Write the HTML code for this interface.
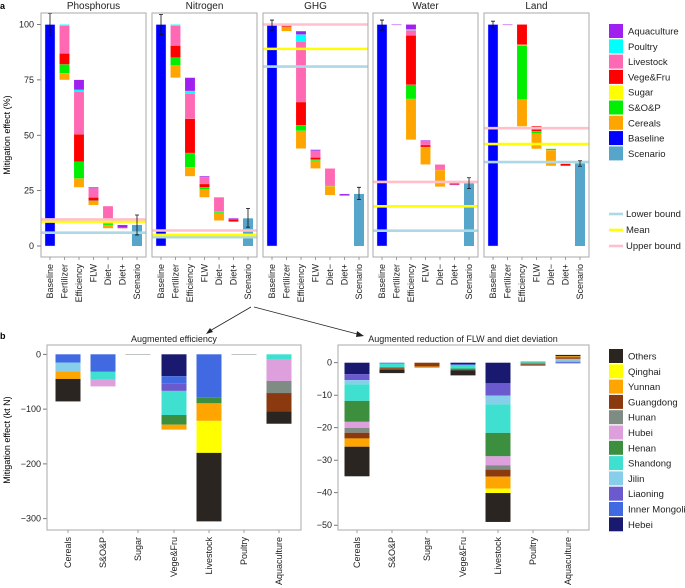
<!DOCTYPE html>
<html><head><meta charset="utf-8"><style>
body{margin:0;background:#fff;}
svg{font-family:"Liberation Sans",Arial,sans-serif;display:block;}
</style></head><body>
<svg id="fig" width="685" height="588" viewBox="0 0 685 588" xmlns="http://www.w3.org/2000/svg">
<text x="0" y="9" font-size="9" font-weight="bold">a</text>
<text x="0" y="339" font-size="9" font-weight="bold">b</text>
<text transform="translate(10,135) rotate(-90)" font-size="9" text-anchor="middle">Mitigation effect (%)</text>
<text transform="translate(10,440) rotate(-90)" font-size="9" text-anchor="middle">Mitigation effect (kt N)</text>
<g id="pa"></g><g id="pb"></g><g id="leg"></g>
<g stroke="#222" stroke-width="0.8" fill="none">
<line x1="251" y1="307" x2="208" y2="332"/><line x1="254" y1="307" x2="361" y2="335"/>
</g>
<path d="M206,334 L210,328 L213,332 Z M364,336 L357,331 L356,337 Z" fill="#222"/>
</svg>
<script>
// ---------- Panel a data ----------
const panels = ['Phosphorus','Nitrogen','GHG','Water','Land'];
const steps = ['Baseline','Fertilizer','Efficiency','FLW','Diet\u2212','Diet+','Scenario'];
const sectors = ['Cereals','S&O&P','Sugar','Vege&Fru','Livestock','Poultry','Aquaculture'];
const sectorColors = ['#FFA500','#00EE00','#FFFF00','#FF0000','#FF69B4','#00FFFF','#A020F0'];
const stepTops = [
 [100,75,26.5,18,9.5],
 [100,76,31.5,22,12.5],
 [100,97,43.5,35,23.5],
 [100,100,47.8,36.8,28.3],
 [100,100,54.1,43.9,37.1]];
const stepSegs = [
 [[3,4,0,5,12.5,0.5,0],[4,7.5,0,12.5,19.3,0.7,4.5],[1.5,0.5,0,1.5,4,0,0.5],[1.5,0.5,0,0,8,0,0],[0,0,0,0.5,0,0,1]],
 [[5.5,3.5,0,5.5,9,0.5,0],[4,6.5,0,15.5,11.5,1,6],[3.5,1,0,1.5,3,0,0.5],[3.5,0.5,0,0,6.5,0,0],[0,0,0,1,0,0,0.5]],
 [[2,0,0,0.5,0.5,0,0],[8,2.5,0,10.5,27.5,3,1.5],[3.5,0.5,0,1,3,0,0.5],[4,0.5,0,0,7.5,0,0],[0,0,0,0.3,0,0,0.5]],
 [[0,0,0,0,0,0,0.2],[18.4,6.4,0,22.3,2.3,0.4,2.2],[7.9,0,0,0.9,1.9,0,0.3],[7.5,0,0,0,2.5,0,0],[0,0,0,0.3,0,0,0.5]],
 [[0,0,0,0,0,0,0.2],[12.1,24.5,0.3,9.1,0,0,0],[6.8,1.2,0,2.2,0,0,0],[7.1,0.6,0,0,0,0,0],[0,0,0,0.9,0,0,0]]];
const scenarioVals = [9.5,12.5,23.5,28.3,37.3];
const scenarioErr = [[5,14],[8.5,17],[21,26.5],[25.9,30.8],[36,38.5]];
const baselineErr = [[95,105],[95.5,104.5],[97.5,102],[97.5,102],[98.5,101.5]];
const boundLower = [6,4,81,6.9,37.9];
const boundMean = [11,5,89,17.9,46];
const boundUpper = [12,7,100,28.9,53.2];
const yTicksA = [0,25,50,75,100];

// ---------- Panel b data ----------
const provinces = ['Hebei','Inner Mongolia','Liaoning','Jilin','Shandong','Henan','Hubei','Hunan','Guangdong','Yunnan','Qinghai','Others'];
const provColors = ['#191970','#4169E1','#6A5ACD','#87CEEB','#40E0D0','#3C8F3E','#DDA0DD','#7F8C84','#8B3A0F','#FFA500','#FFFF00','#2B2522'];
const bCats = ['Cereals','S&O&P','Sugar','Vege&Fru','Livestock','Poultry','Aquaculture'];
const effVals = [
 [0,-15,0,-16.5,0,0,0,0,0,-13.5,0,-41],
 [0,-32,0,0,-14.6,0,-12,0,0,0,0,0],
 [0,0,0,0,0,0,0,-0.4,0,0,0,0],
 [-40,-12.8,-14,0,-44,-17.6,0,0,0,-9,0,0],
 [0,-78.5,0,0,0,-11,0,0,0,-32,-58.4,-125],
 [0,0,0,0,0,0,0,-0.3,0,0,0,0],
 [0,0,0,0,-9.7,0,-39,-22,-33.5,0,0,-22.5]];
const flwVals = [
 [-3.5,0,-1.85,-1.3,-5.1,-6.45,-1.85,-1.5,-1.75,-2.55,0,-9.1],
 [0,-0.3,0,0,-1.1,-0.3,0,0,-0.5,0,0,-1.0],
 [0,0,0,0,0,0,0,0,-1.2,-0.4,0,0],
 [-0.5,-0.3,0,0,-1.0,-0.5,0,0,0,0,0,-1.6],
 [-6.35,0,-3.8,-2.65,-8.8,-7.2,-2.75,-1.35,-2.15,-3.7,-1.35,-8.9],
 [0,0,0,0,0.3,-0.2,0.2,-0.3,-0.4,0,0,0],
 [0,0.3,-0.2,0,0.4,0,0.5,0,0.5,0.3,0,0.4]];
const yTicksB1 = [0,-100,-200,-300];
const yTicksB2 = [0,-10,-20,-30,-40,-50];

const NS='http://www.w3.org/2000/svg';
function mk(tag,attrs,parent,txt){const e=document.createElementNS(NS,tag);for(const k in attrs)e.setAttribute(k,attrs[k]);if(txt!==undefined)e.textContent=txt;parent.appendChild(e);return e;}

// ---------- draw panel a ----------
const pa=document.getElementById('pa');
const yA=v=>246-v*2.215;
const pLeft=[41,152,263,373,484], pW=105, pTop=13, pBot=257;
yTicksA.forEach(t=>{
  const l=mk('line',{x1:37,x2:41,y1:yA(t),y2:yA(t),stroke:'#555','stroke-width':0.8},pa);
  
  
  const tx=mk('text',{x:34,y:yA(t)+3,'font-size':9,'text-anchor':'end',fill:'#222'},pa,String(t));
  
  
});
panels.forEach((pn,p)=>{
  const L=pLeft[p];
  const g=mk('g',{},pa);
  
  
  const t=mk('text',{x:L+pW/2,y:9,'font-size':10,'text-anchor':'middle',fill:'#222'},g,pn);
  
  
  const cx=i=>L+9+i*14.5;
  const bw=10;
  const b=mk('rect',{x:cx(0)-bw/2,y:yA(100),width:bw,height:yA(0)-yA(100),fill:'#0000FF',stroke:'#ddf','stroke-width':0.4},g);
  
  
  for(let s=0;s<5;s++){
    let top=stepTops[p][s];
    const segs=stepSegs[p][s];
    const total=segs.reduce((a,c)=>a+c,0);
    let base=top-total;
    segs.forEach((v,k)=>{
      if(v<=0)return;
      const r=mk('rect',{x:cx(s+1)-bw/2,y:yA(base+v),width:bw,height:Math.max(yA(base)-yA(base+v),0.6),fill:sectorColors[k],stroke:'#fff','stroke-opacity':0.4,'stroke-width':0.3},g);
      
      
      base+=v;
    });
  }
  const sc=mk('rect',{x:cx(6)-bw/2,y:yA(scenarioVals[p]),width:bw,height:yA(0)-yA(scenarioVals[p]),fill:'#55A6CA'},g);
  
  
  [[boundLower,'#ADD8E6','lower-bound-line'],[boundMean,'#FFFF00','mean-line'],[boundUpper,'#FFC0CB','upper-bound-line']].forEach(([arr,c,n])=>{
    const ln=mk('line',{x1:L,x2:L+pW,y1:yA(arr[p]),y2:yA(arr[p]),stroke:c,'stroke-width':2.6},g);
    
    
  });
  [[0,baselineErr[p]],[6,scenarioErr[p]]].forEach(([i,e])=>{
    const x=cx(i);
    const eb=mk('path',{d:`M${x},${yA(e[0])}V${yA(e[1])}M${x-2},${yA(e[0])}H${x+2}M${x-2},${yA(e[1])}H${x+2}`,stroke:'#111','stroke-width':0.8,fill:'none'},g);
    
    
  });
  const box=mk('rect',{x:L,y:pTop,width:pW,height:pBot-pTop,fill:'none',stroke:'#aaa','stroke-width':1},g);
  
  
  steps.forEach((st,i)=>{
    const tk=mk('line',{x1:cx(i),x2:cx(i),y1:pBot,y2:pBot+3,stroke:'#777','stroke-width':0.7},g);
    
    
    const lb=mk('text',{transform:`translate(${cx(i)+3},264) rotate(-90)`,'font-size':9,'text-anchor':'end',fill:'#222'},g,st);
    
    
  });
});

// ---------- draw panel b ----------
const pb=document.getElementById('pb');
function drawB(L,R,top,bot,y0,scale,vals,ticks,title,titleX,centers,nm){
  const yB=v=>y0-v*scale;
  const g=mk('g',{},pb);
  
  
  const t=mk('text',{x:titleX,y:342,'font-size':9,'text-anchor':'middle',fill:'#222'},g,title);
  
  
  ticks.forEach(tv=>{
    const l=mk('line',{x1:L-4,x2:L,y1:yB(tv),y2:yB(tv),stroke:'#555','stroke-width':0.8},g);
    
    
    const tx=mk('text',{x:L-6,y:yB(tv)+3,'font-size':9,'text-anchor':'end',fill:'#222'},g,(tv<0?'\u2212'+(-tv):String(tv)));
    
    
  });
  bCats.forEach((c,i)=>{
    const x=centers[i], bw=25;
    let neg=0,pos=0;
    vals[i].forEach((v,k)=>{
      if(v===0)return;
      let y1,y2;
      if(v<0){y1=neg;y2=neg+v;neg=y2;}else{y1=pos;y2=pos+v;pos=y2;}
      const r=mk('rect',{x:x-bw/2,y:Math.min(yB(y1),yB(y2)),width:bw,height:Math.max(Math.abs(yB(y1)-yB(y2)),0.5),fill:provColors[k]},g);
      
      
    });
    const tk=mk('line',{x1:x,x2:x,y1:bot,y2:bot+3,stroke:'#777','stroke-width':0.7},g);
    
    
    const lb=mk('text',{transform:`translate(${x+3},537) rotate(-90)`,'font-size':9,'text-anchor':'end',fill:'#222'},g,c);
    
    
  });
  const box=mk('rect',{x:L,y:top,width:R-L,height:bot-top,fill:'none',stroke:'#aaa','stroke-width':1},g);
  
  
}
drawB(47,301,345,530,354.3,0.548,effVals,yTicksB1,'Augmented efficiency',174,[68,103,138,174,209,244,279],'panel-b-efficiency');
drawB(338,589,345,530,362.7,3.25,flwVals,yTicksB2,'Augmented reduction of FLW and diet deviation',463,[357,392,427,463,498,533,568],'panel-b-flw-diet');

// ---------- legends ----------
const leg=document.getElementById('leg');
const legA=['Aquaculture','Poultry','Livestock','Vege&Fru','Sugar','S&O&P','Cereals','Baseline','Scenario'];
const legAColors=['#A020F0','#00FFFF','#FF69B4','#FF0000','#FFFF00','#00EE00','#FFA500','#0000FF','#55A6CA'];
legA.forEach((n,i)=>{
  const y=24+i*15.3;
  const r=mk('rect',{x:609,y:y,width:14,height:14,fill:legAColors[i]},leg);
  
  
  const t=mk('text',{x:628,y:y+10.5,'font-size':9.5,fill:'#222'},leg,n);
  
  
});
[['Lower bound','#ADD8E6'],['Mean','#FFFF00'],['Upper bound','#FFC0CB']].forEach(([n,c],i)=>{
  const y=214+i*16;
  const l=mk('line',{x1:609,x2:623,y1:y,y2:y,stroke:c,'stroke-width':2.6},leg);
  
  
  const t=mk('text',{x:626,y:y+3,'font-size':9.5,fill:'#222'},leg,n);
  
  
});
provinces.slice().reverse().forEach((n,i)=>{
  const y=349+i*15.3;
  const k=provinces.length-1-i;
  const r=mk('rect',{x:609,y:y,width:14,height:14,fill:provColors[k]},leg);
  
  
  const t=mk('text',{x:628,y:y+10.5,'font-size':9.5,fill:'#222'},leg,n);
  
  
});
</script>
</body></html>
